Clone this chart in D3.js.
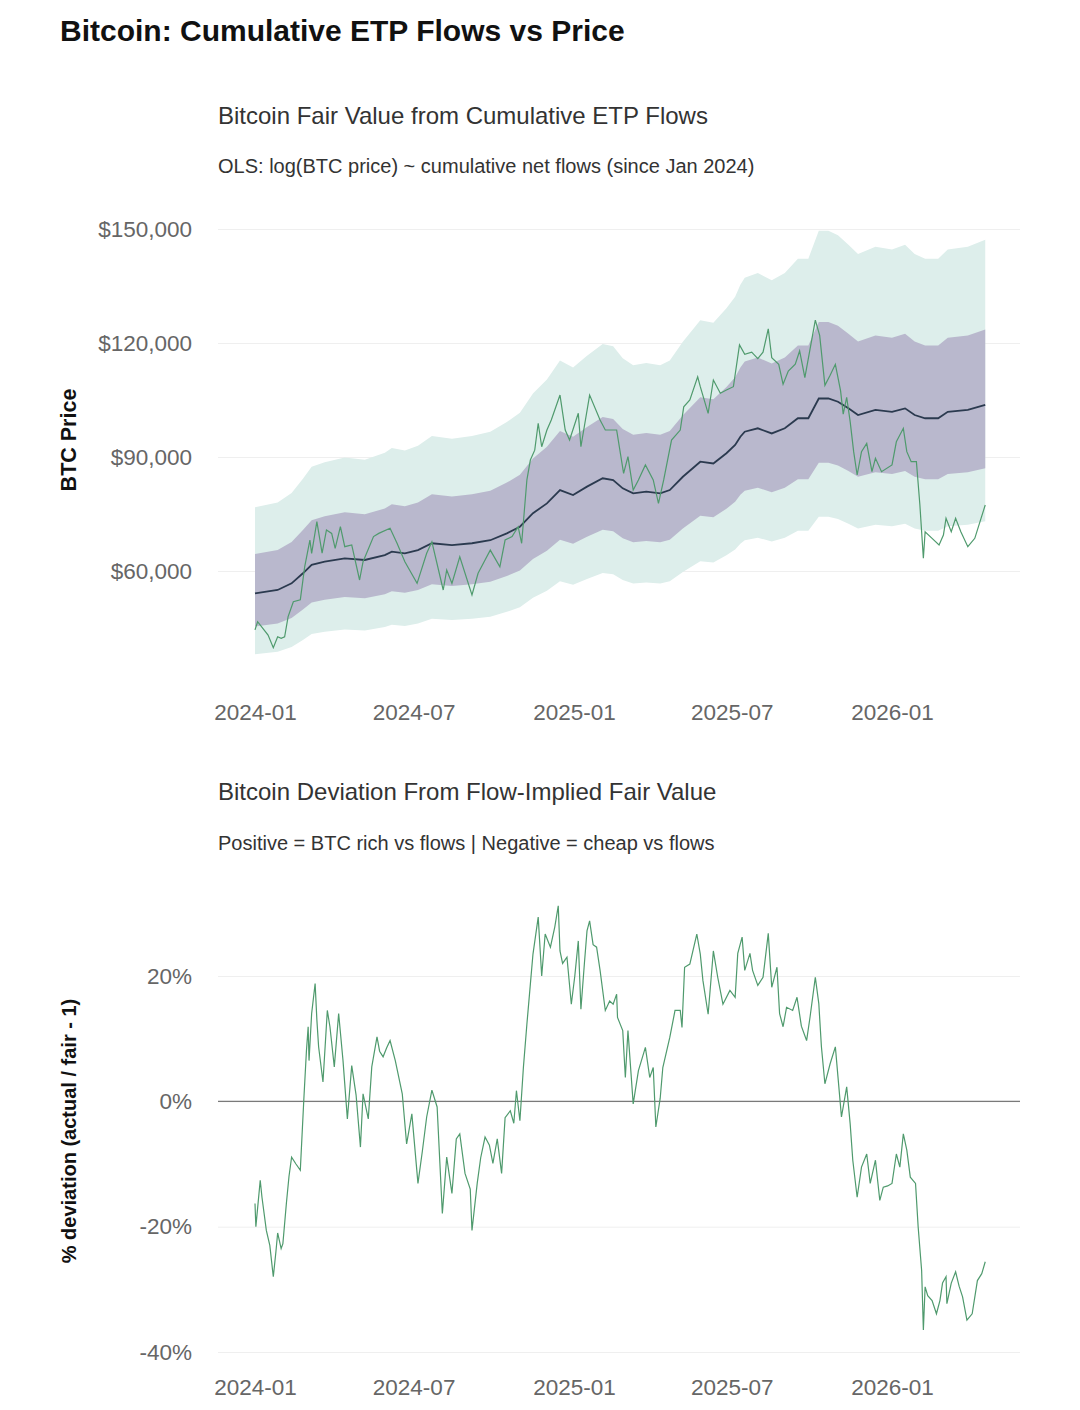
<!DOCTYPE html>
<html>
<head>
<meta charset="utf-8">
<script src="https://cdn.jsdelivr.net/npm/d3@7"></script>
<style>
  body { margin: 0; background: #fff; }
  svg text { font-family: "Liberation Sans", Arial, sans-serif; }
</style>
</head>
<body>
<svg id="chart" width="1080" height="1410"></svg>
<script>
/* Axis ticks */
const X_TICKS = ["2024-01-01", "2024-07-01", "2025-01-01", "2025-07-01", "2026-01-01"]
const PRICE_TICKS = [60000, 90000, 120000, 150000]
const DEV_TICKS = [-40, -20, 0, 20]

/* Flow-implied fair value (USD) */
const FAIR_DATES = [
  "2024-01-01", "2024-01-27", "2024-02-12", "2024-02-25", "2024-03-06", "2024-03-21", "2024-04-13",
  "2024-05-06", "2024-05-29", "2024-06-06", "2024-06-21", "2024-07-06", "2024-07-22", "2024-08-14",
  "2024-09-06", "2024-09-27", "2024-10-16", "2024-10-31", "2024-11-15", "2024-12-01", "2024-12-16",
  "2024-12-31", "2025-01-16", "2025-02-03", "2025-02-15", "2025-02-26", "2025-03-10", "2025-03-25",
  "2025-04-10", "2025-04-21", "2025-05-06", "2025-05-26", "2025-06-10", "2025-06-25", "2025-07-05",
  "2025-07-11", "2025-07-16", "2025-07-31", "2025-08-16", "2025-08-31", "2025-09-15", "2025-09-27",
  "2025-10-09", "2025-10-20", "2025-10-31", "2025-11-12", "2025-11-23", "2025-12-13", "2026-01-01",
  "2026-01-16", "2026-01-27", "2026-02-08", "2026-02-23", "2026-03-06", "2026-03-29", "2026-04-18"
]
const FAIR_USD = [
  54100, 55000, 56760, 59400, 61600, 62450, 63340,
  62900, 64200, 65100, 64650, 65500, 67300, 66800,
  67300, 68100, 69900, 71650, 75200, 77800, 81300,
  80000, 82200, 84400, 83950, 81750, 80450, 80870,
  80450, 81300, 84800, 88760, 88300, 91000, 93160,
  95350, 96650, 97550, 96200, 97550, 100200, 100200,
  105400, 105400, 104550, 102800, 101050, 102400, 101900,
  102800, 101050, 100200, 100200, 101900, 102400, 103700
]
/* residual sd of log price (inner = 1 sd, outer = 2 sd) */
const RESID_SD = 0.175

/* BTC price (USD) */
const PRICE_DATES = [
  "2024-01-01", "2024-01-04", "2024-01-10", "2024-01-16", "2024-01-22", "2024-01-27", "2024-01-31",
  "2024-02-04", "2024-02-08", "2024-02-14", "2024-02-22", "2024-02-27", "2024-03-04", "2024-03-06",
  "2024-03-12", "2024-03-18", "2024-03-23", "2024-03-29", "2024-04-02", "2024-04-08", "2024-04-13",
  "2024-04-21", "2024-04-30", "2024-05-04", "2024-05-16", "2024-05-22", "2024-06-04", "2024-06-12",
  "2024-06-21", "2024-07-05", "2024-07-16", "2024-07-22", "2024-08-04", "2024-08-08", "2024-08-14",
  "2024-08-23", "2024-09-06", "2024-09-13", "2024-09-21", "2024-09-27", "2024-10-08", "2024-10-14",
  "2024-10-22", "2024-10-29", "2024-11-02", "2024-11-08", "2024-11-12", "2024-11-17", "2024-11-21",
  "2024-11-25", "2024-12-01", "2024-12-06", "2024-12-16", "2024-12-22", "2024-12-27", "2025-01-06",
  "2025-01-09", "2025-01-19", "2025-01-31", "2025-02-06", "2025-02-19", "2025-02-27", "2025-03-04",
  "2025-03-10", "2025-03-16", "2025-03-24", "2025-04-02", "2025-04-08", "2025-04-14", "2025-04-23",
  "2025-05-03", "2025-05-07", "2025-05-14", "2025-05-23", "2025-05-26", "2025-06-04", "2025-06-10",
  "2025-06-18", "2025-06-25", "2025-07-03", "2025-07-10", "2025-07-16", "2025-07-24", "2025-07-31",
  "2025-08-06", "2025-08-12", "2025-08-16", "2025-08-24", "2025-08-29", "2025-09-04", "2025-09-12",
  "2025-09-17", "2025-09-23", "2025-10-05", "2025-10-10", "2025-10-16", "2025-10-22", "2025-10-28",
  "2025-11-03", "2025-11-06", "2025-11-10", "2025-11-14", "2025-11-18", "2025-11-22", "2025-11-27",
  "2025-12-03", "2025-12-09", "2025-12-13", "2025-12-20", "2026-01-01", "2026-01-06", "2026-01-14",
  "2026-01-18", "2026-01-23", "2026-01-29", "2026-02-02", "2026-02-06", "2026-02-08", "2026-02-16",
  "2026-02-24", "2026-03-01", "2026-03-04", "2026-03-10", "2026-03-15", "2026-03-21", "2026-03-29",
  "2026-04-06", "2026-04-12", "2026-04-18"
]
const PRICE_USD = [
  44500, 46650, 44900, 43150, 39800, 42700, 42300,
  42700, 48000, 51900, 52400, 61100, 68150, 64650,
  73000, 64700, 70800, 69900, 65970, 71650, 66400,
  66850, 57630, 62450, 69050, 69900, 71230, 67300,
  62450, 56750, 64650, 67700, 55000, 60260, 56750,
  63760, 53700, 59400, 62900, 65500, 61100, 68150,
  69050, 71650, 67300, 83950, 89200, 91800, 98870,
  92700, 97100, 99740, 106300, 97100, 94470, 101500,
  92700, 106300, 99740, 97100, 97100, 85700, 90080,
  81300, 83950, 87900, 83950, 77800, 83950, 94470,
  97100, 103200, 105000, 111100, 108500, 101500, 110260,
  106770, 107650, 108500, 119500, 117000, 117600, 115900,
  117600, 123740, 116130, 114400, 109150, 112600, 114400,
  117900, 110900, 126000, 122000, 108850, 111500, 114400,
  107400, 101300, 105700, 99300, 91400, 85260, 91400,
  93600, 86130, 89650, 86130, 87900, 94000, 97550,
  91400, 88760, 88760, 77370, 63340, 70340, 68600,
  66840, 69470, 73860, 70340, 73860, 70340, 66400,
  68600, 73000, 77370
]

/* Deviation from fair value (%) */
const DEV_DATES = [
  "2024-01-01", "2024-01-02", "2024-01-07", "2024-01-09", "2024-01-14", "2024-01-18", "2024-01-22",
  "2024-01-25", "2024-01-27", "2024-01-31", "2024-02-02", "2024-02-06", "2024-02-09", "2024-02-12",
  "2024-02-17", "2024-02-22", "2024-02-26", "2024-02-29", "2024-03-02", "2024-03-03", "2024-03-06",
  "2024-03-10", "2024-03-12", "2024-03-14", "2024-03-19", "2024-03-24", "2024-03-27", "2024-04-01",
  "2024-04-06", "2024-04-11", "2024-04-16", "2024-04-21", "2024-04-26", "2024-05-01", "2024-05-04",
  "2024-05-10", "2024-05-14", "2024-05-20", "2024-05-23", "2024-05-27", "2024-05-31", "2024-06-04",
  "2024-06-10", "2024-06-18", "2024-06-23", "2024-06-29", "2024-07-06", "2024-07-11", "2024-07-16",
  "2024-07-22", "2024-07-28", "2024-08-03", "2024-08-08", "2024-08-14", "2024-08-19", "2024-08-23",
  "2024-08-29", "2024-09-04", "2024-09-06", "2024-09-12", "2024-09-16", "2024-09-21", "2024-09-26",
  "2024-09-30", "2024-10-05", "2024-10-10", "2024-10-14", "2024-10-20", "2024-10-24", "2024-10-27",
  "2024-10-31", "2024-11-04", "2024-11-08", "2024-11-12", "2024-11-15", "2024-11-21", "2024-11-25",
  "2024-11-29", "2024-12-05", "2024-12-10", "2024-12-14", "2024-12-16", "2024-12-19", "2024-12-24",
  "2024-12-29", "2025-01-02", "2025-01-06", "2025-01-09", "2025-01-13", "2025-01-16", "2025-01-19",
  "2025-01-23", "2025-01-27", "2025-01-31", "2025-02-06", "2025-02-11", "2025-02-15", "2025-02-19",
  "2025-02-20", "2025-02-26", "2025-03-01", "2025-03-04", "2025-03-10", "2025-03-16", "2025-03-24",
  "2025-03-29", "2025-04-02", "2025-04-05", "2025-04-10", "2025-04-13", "2025-04-21", "2025-04-27",
  "2025-05-03", "2025-05-05", "2025-05-08", "2025-05-14", "2025-05-22", "2025-05-26", "2025-05-29",
  "2025-06-04", "2025-06-10", "2025-06-15", "2025-06-21", "2025-06-29", "2025-07-05", "2025-07-08",
  "2025-07-13", "2025-07-16", "2025-07-22", "2025-07-25", "2025-07-31", "2025-08-06", "2025-08-12",
  "2025-08-16", "2025-08-22", "2025-08-25", "2025-08-29", "2025-09-02", "2025-09-09", "2025-09-14",
  "2025-09-19", "2025-09-25", "2025-09-29", "2025-10-05", "2025-10-09", "2025-10-12", "2025-10-16",
  "2025-10-22", "2025-10-28", "2025-10-31", "2025-11-04", "2025-11-10", "2025-11-14", "2025-11-17",
  "2025-11-22", "2025-11-27", "2025-12-03", "2025-12-07", "2025-12-13", "2025-12-18", "2025-12-22",
  "2025-12-27", "2026-01-01", "2026-01-06", "2026-01-10", "2026-01-14", "2026-01-18", "2026-01-22",
  "2026-01-28", "2026-01-31", "2026-02-04", "2026-02-06", "2026-02-08", "2026-02-11", "2026-02-16",
  "2026-02-21", "2026-02-25", "2026-02-28", "2026-03-04", "2026-03-05", "2026-03-10", "2026-03-15",
  "2026-03-19", "2026-03-23", "2026-03-28", "2026-04-03", "2026-04-09", "2026-04-14", "2026-04-18"
]
const DEV_PCT = [
  -16.3, -20, -12.6, -15.3, -20.6, -23, -28,
  -24, -21, -23.5, -22.7, -16.3, -12, -8.9,
  -10, -11, 0.2, 8, 11.9, 6.5, 14,
  18.8, 13, 8.7, 3.1, 14.5, 11.9, 5.5,
  14, 6.5, -2.8, 5.7, 1, -7.3, 1.2,
  -2.8, 5.5, 10.3, 8, 7.1, 8.5, 9.7,
  6.5, 1.2, -6.8, -2, -13.1, -8, -2.5,
  1.8, -0.9, -17.9, -8.9, -14.7, -6, -5.2,
  -11.5, -14, -20.6, -13.1, -9, -5.7, -7,
  -9.9, -6, -11.5, -2.6, -1.5, -3.5, 1.7,
  -3.1, 5.4, 12.3, 18.7, 23.5, 29.4, 20,
  26.7, 24.6, 27.8, 31.2, 24, 22, 23,
  15.5, 20, 25.6, 14.7, 22, 27.2, 28.8,
  25, 24.6, 20.9, 14.5, 16, 15.5, 17.1,
  13.4, 11.3, 3.8, 11.3, -0.4, 4.9, 8.6,
  3.8, 5.4, -4.1, 0.5, 5.4, 10.2, 14.5,
  14.5, 11.8, 21.4, 21.9, 26.7, 23.5, 19.3,
  13.9, 24, 19.8, 15.5, 17.7, 16.6, 23.6,
  26.2, 20.9, 23.6, 20.9, 18.5, 19.8, 26.8,
  18.2, 21.4, 14, 11.9, 15, 14.5, 16.6,
  12, 9.7, 13.5, 19.8, 15.6, 8.7, 2.8,
  6, 8.7, 3.9, -2.5, 2.3, -3.6, -9.4,
  -15.3, -10.5, -8.4, -13.1, -9.4, -15.8, -13.7,
  -13.5, -13.1, -8.4, -10.5, -5.2, -7.8, -12.1,
  -13.1, -20, -27, -36.5, -29.6, -31, -31.8,
  -33.9, -31.8, -29, -28, -32.3, -29, -27.2,
  -29.5, -31.2, -34.9, -33.9, -28.6, -27.5, -25.6
]

/* Layout */
const PLOT_LEFT = 218
const PLOT_RIGHT = 1020
const COLORS = {
  "OUTER": "#ddeeeb",
  "INNER": "#b9b8cd",
  "FAIR": "#2b3a4f",
  "PRICE": "#4f9a6d",
  "GRID": "#efefef",
  "ZERO": "#7a7a7a",
  "TICK": "#666666"
}

const parse = d3.timeParse("%Y-%m-%d")
const svg = d3.select("#chart")

const fair = FAIR_DATES.map((d, i) => ({date: parse(d), value: FAIR_USD[i]}))
const price = PRICE_DATES.map((d, i) => ({date: parse(d), value: PRICE_USD[i]}))
const dev = DEV_DATES.map((d, i) => ({date: parse(d), value: DEV_PCT[i]}))

const xScale = d3.scaleTime()
                 .domain([parse("2024-01-01"), parse("2026-01-01")])
                 .range([255, 892])
const yPrice = d3.scaleLinear().domain([60000, 150000]).range([571, 229])
const yDev = d3.scaleLinear().domain([-40, 20]).range([1352, 976])

/* Titles */
const addText = (x, y, txt, size, weight, color) =>
  svg.append("text").attr("x", x).attr("y", y).text(txt)
     .attr("font-size", size).attr("font-weight", weight).attr("fill", color)

addText(60, 41, "Bitcoin: Cumulative ETP Flows vs Price", 30, "bold", "#111")
addText(218, 124, "Bitcoin Fair Value from Cumulative ETP Flows", 24, "normal", "#333")
addText(218, 173, "OLS: log(BTC price) ~ cumulative net flows (since Jan 2024)", 20, "normal", "#333")
addText(218, 800, "Bitcoin Deviation From Flow-Implied Fair Value", 24, "normal", "#333")
addText(218, 850, "Positive = BTC rich vs flows | Negative = cheap vs flows", 20, "normal", "#333")

svg.append("text").attr("transform", "translate(76,440) rotate(-90)")
   .attr("text-anchor", "middle").attr("font-size", 21.5).attr("font-weight", "bold")
   .attr("fill", "#111").text("BTC Price")
svg.append("text").attr("transform", "translate(76,1131) rotate(-90)")
   .attr("text-anchor", "middle").attr("font-size", 20).attr("font-weight", "bold")
   .attr("fill", "#111").text("% deviation (actual / fair - 1)")

/* Axes helpers */
const styleAxis = (g) => {
  g.select(".domain").remove()
  g.selectAll(".tick line").attr("stroke", COLORS.GRID).attr("stroke-width", 1)
  g.selectAll(".tick text").attr("fill", COLORS.TICK).attr("font-size", 22.5)
   .attr("font-family", "Liberation Sans, Arial, sans-serif")
}
const xAxis = d3.axisBottom(xScale)
                .tickValues(X_TICKS.map(parse))
                .tickFormat(d3.timeFormat("%Y-%m"))
                .tickSize(0).tickPadding(0)

/* ---------- Top panel: fair value bands ---------- */
svg.append("g")
   .attr("transform", "translate(" + PLOT_LEFT + ",0)")
   .call(d3.axisLeft(yPrice).tickValues(PRICE_TICKS)
           .tickFormat((d) => "$" + d3.format(",")(d))
           .tickSize(-(PLOT_RIGHT - PLOT_LEFT)).tickPadding(26))
   .call(styleAxis)

const band = (k) => d3.area()
  .x((d) => xScale(d.date))
  .y0((d) => yPrice(d.value * Math.exp(-k * RESID_SD)))
  .y1((d) => yPrice(d.value * Math.exp(k * RESID_SD)))

svg.append("path").datum(fair).attr("d", band(2)).attr("fill", COLORS.OUTER)
svg.append("path").datum(fair).attr("d", band(1)).attr("fill", COLORS.INNER)

svg.append("path").datum(fair)
   .attr("d", d3.line().x((d) => xScale(d.date)).y((d) => yPrice(d.value)))
   .attr("fill", "none").attr("stroke", COLORS.FAIR).attr("stroke-width", 1.8)

svg.append("path").datum(price)
   .attr("d", d3.line().x((d) => xScale(d.date)).y((d) => yPrice(d.value)))
   .attr("fill", "none").attr("stroke", COLORS.PRICE).attr("stroke-width", 1.2)

svg.append("g").attr("transform", "translate(0,704)").call(xAxis).call(styleAxis)

/* ---------- Bottom panel: deviation ---------- */
svg.append("g")
   .attr("transform", "translate(" + PLOT_LEFT + ",0)")
   .call(d3.axisLeft(yDev).tickValues(DEV_TICKS)
           .tickFormat((d) => d + "%")
           .tickSize(-(PLOT_RIGHT - PLOT_LEFT)).tickPadding(26))
   .call(styleAxis)

svg.append("line")
   .attr("x1", PLOT_LEFT).attr("x2", PLOT_RIGHT)
   .attr("y1", yDev(0)).attr("y2", yDev(0))
   .attr("stroke", COLORS.ZERO).attr("stroke-width", 1.4)

svg.append("path").datum(dev)
   .attr("d", d3.line().x((d) => xScale(d.date)).y((d) => yDev(d.value)))
   .attr("fill", "none").attr("stroke", COLORS.PRICE).attr("stroke-width", 1.2)

svg.append("g").attr("transform", "translate(0,1379)").call(xAxis).call(styleAxis)
</script>
</body>
</html>
